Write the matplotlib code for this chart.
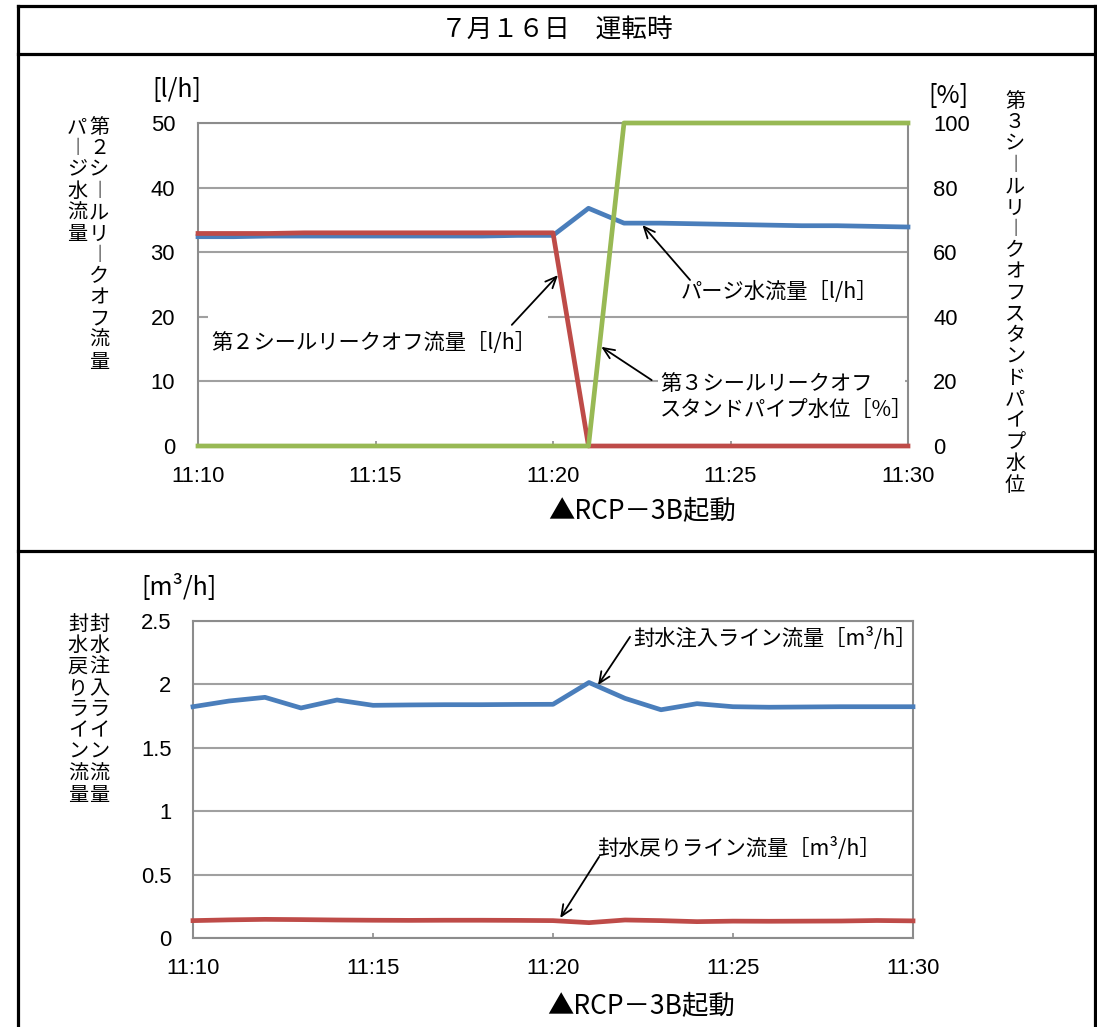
import matplotlib
matplotlib.use("Agg")
import matplotlib.pyplot as plt
import matplotlib.dates as mdates
from matplotlib.ticker import MultipleLocator, StrMethodFormatter
from matplotlib.patches import Rectangle
from matplotlib.lines import Line2D
import pandas as pd

plt.rcParams['font.family'] = ['Noto Sans CJK JP', 'DejaVu Sans']

# ---------------- data ----------------
title = "７月１６日　運転時"
times = ["11:10", "11:11", "11:12", "11:13", "11:14", "11:15", "11:16", "11:17",
         "11:18", "11:19", "11:20", "11:21", "11:22", "11:23", "11:24", "11:25",
         "11:26", "11:27", "11:28", "11:29", "11:30"]
purge_flow = [32.4, 32.4, 32.5, 32.5, 32.5, 32.5, 32.5, 32.5, 32.5, 32.6, 32.6,
              36.8, 34.5, 34.5, 34.4, 34.3, 34.2, 34.1, 34.1, 34.0, 33.9]
leakoff2_flow = [32.9, 32.9, 32.9, 33.0, 33.0, 33.0, 33.0, 33.0, 33.0, 33.0, 33.0,
                 0, 0, 0, 0, 0, 0, 0, 0, 0, 0]
standpipe3_level = [0, 0, 0, 0, 0, 0, 0, 0, 0, 0, 0, 0,
                    100, 100, 100, 100, 100, 100, 100, 100, 100]
inject_flow = [1.824, 1.869, 1.898, 1.814, 1.877, 1.835, 1.838, 1.840, 1.840, 1.842, 1.843,
               2.015, 1.890, 1.800, 1.848, 1.824, 1.820, 1.822, 1.824, 1.824, 1.824]
return_flow = [0.137, 0.143, 0.147, 0.145, 0.142, 0.140, 0.139, 0.140, 0.140, 0.139, 0.137,
               0.121, 0.142, 0.137, 0.129, 0.133, 0.132, 0.133, 0.134, 0.138, 0.135]

label_purge = "パージ水流量［l/h］"
label_leak2 = "第２シールリークオフ流量［l/h］"
label_stand3 = "第３シールリークオフ\nスタンドパイプ水位［%］"
label_inject = "封水注入ライン流量［m³/h］"
label_return = "封水戻りライン流量［m³/h］"
ylab_top_right_col = "第２シールリークオフ流量"
ylab_top_left_col = "パージ水流量"
ylab_right = "第３シールリークオフスタンドパイプ水位"
ylab_bot_right_col = "封水注入ライン流量"
ylab_bot_left_col = "封水戻りライン流量"
event_label = "▲RCP－3B起動"

BLUE = "#4A7EBB"
RED = "#BE4B48"
GREEN = "#98B954"
GRID = "#A0A0A0"
SPINE = "#8C8C8C"
NUMFONT = "Liberation Sans"
ANN_FS = 15.3

W, H = 1097, 1027
fig = plt.figure(figsize=(W / 100, H / 100), dpi=100)


def fx(px):
    return px / W


def fy(py):
    return 1 - py / H


def vert(s):
    return "\n".join("︱" if c == "ー" else c for c in s)


# ---------------- frame ----------------
fk = dict(color="black", lw=2.3, transform=fig.transFigure, solid_capstyle="projecting")
fig.add_artist(Line2D([fx(18), fx(1095)], [fy(6), fy(6)], **fk))
fig.add_artist(Line2D([fx(18), fx(1095)], [fy(54), fy(54)], **fk))
fig.add_artist(Line2D([fx(18), fx(1095)], [fy(550.5), fy(550.5)], **fk))
fig.add_artist(Line2D([fx(18), fx(18)], [fy(6), 0], **fk))
fig.add_artist(Line2D([fx(1095), fx(1095)], [fy(6), 0], **fk))

fig.text(0.508, fy(30), title, ha="center", va="center", fontsize=18.5)

t = pd.to_datetime(times, format="%H:%M")
line_kw = dict(lw=3.4, solid_joinstyle="round", clip_on=False, zorder=3)
arrow_kw = dict(arrowstyle="->,head_length=0.8,head_width=0.35", color="black",
                lw=1.3, shrinkA=0, shrinkB=0)


def style_axes(ax):
    for sp in ax.spines.values():
        sp.set_color(SPINE)
        sp.set_linewidth(1.5)
        sp.set_zorder(2.5)
    ax.set_axisbelow(True)
    ax.yaxis.grid(True, color=GRID, lw=1.5)
    ax.xaxis.grid(False)
    ax.xaxis.set_major_locator(mdates.MinuteLocator(byminute=range(0, 60, 5)))
    ax.xaxis.set_major_formatter(mdates.DateFormatter("%H:%M"))
    ax.tick_params(axis="x", direction="in", length=3.6, width=1.2, color=SPINE,
                   pad=14.5, labelsize=15.8, labelfontfamily=NUMFONT)
    ax.set_xlim(t[0], t[-1])


# ---------------- top chart ----------------
ax1 = fig.add_axes([fx(198), fy(446), (908 - 198) / W, (446 - 123) / H])
style_axes(ax1)
ax1.plot(t, purge_flow, color=BLUE, **line_kw)
ax1.plot(t, leakoff2_flow, color=RED, **line_kw)
ax1.set_ylim(0, 50)
ax1.yaxis.set_major_locator(MultipleLocator(10))
ax1.tick_params(axis="y", length=0, pad=16.5, labelsize=15.8, labelfontfamily=NUMFONT)

axr = ax1.twinx()
axr.plot(t, standpipe3_level, color=GREEN, **line_kw)
axr.set_ylim(0, 100)
axr.yaxis.set_major_locator(MultipleLocator(20))
axr.tick_params(axis="y", length=0, pad=18, labelsize=15.8, labelfontfamily=NUMFONT)
for sp in axr.spines.values():
    sp.set_visible(False)
axr.set_xlim(t[0], t[-1])

# white text boxes hiding gridlines
ax1.add_patch(Rectangle((0.014, 0.235), 0.479, 0.18, transform=ax1.transAxes,
                        fc="white", ec="none", zorder=1))
ax1.add_patch(Rectangle((0.648, 0.056), 0.348, 0.195, transform=ax1.transAxes,
                        fc="white", ec="none", zorder=1))

ax1.text(0.248, 0.319, label_leak2, transform=ax1.transAxes, ha="center", va="center",
         fontsize=ANN_FS, zorder=5)
ax1.annotate("", xy=(0.507, 0.529), xytext=(0.442, 0.375), xycoords="axes fraction",
             arrowprops=arrow_kw, zorder=5)
ax1.text(0.819, 0.478, label_purge, transform=ax1.transAxes, ha="center", va="center",
         fontsize=ANN_FS, zorder=5)
ax1.annotate("", xy=(0.626, 0.684), xytext=(0.693, 0.514), xycoords="axes fraction",
             arrowprops=arrow_kw, zorder=5)
ax1.text(0.651, 0.152, label_stand3, transform=ax1.transAxes, ha="left", va="center",
         fontsize=ANN_FS, linespacing=1.25, zorder=5)
ax1.annotate("", xy=(0.568, 0.307), xytext=(0.639, 0.204), xycoords="axes fraction",
             arrowprops=arrow_kw, zorder=5)

fig.text(fx(177), fy(90), "[l/h]", ha="center", va="center", fontsize=18)
fig.text(fx(948.5), fy(96), "[%]", ha="center", va="center", fontsize=18)
fig.text(fx(99), fy(117), vert(ylab_top_right_col), ha="center", va="top",
         fontsize=14.5, linespacing=1.02)
fig.text(fx(77), fy(117), vert(ylab_top_left_col), ha="center", va="top",
         fontsize=14.5, linespacing=1.02)
fig.text(fx(1015), fy(91), vert(ylab_right), ha="center", va="top",
         fontsize=14.5, linespacing=1.02)
fig.text(fx(548), fy(512), event_label, ha="left", va="center", fontsize=19)

# ---------------- bottom chart ----------------
ax2 = fig.add_axes([fx(193), fy(938), (913 - 193) / W, (938 - 621) / H])
style_axes(ax2)
ax2.plot(t, inject_flow, color=BLUE, **line_kw)
ax2.plot(t, return_flow, color=RED, **line_kw)
ax2.set_ylim(0, 2.5)
ax2.yaxis.set_major_locator(MultipleLocator(0.5))
ax2.yaxis.set_major_formatter(StrMethodFormatter("{x:g}"))
ax2.tick_params(axis="y", length=0, pad=15.5, labelsize=15.8, labelfontfamily=NUMFONT)

ax2.text(0.808, 0.946, label_inject, transform=ax2.transAxes, ha="center", va="center",
         fontsize=ANN_FS, zorder=5)
ax2.annotate("", xy=(0.5625, 0.798), xytext=(0.607, 0.950), xycoords="axes fraction",
             arrowprops=arrow_kw, zorder=5)
ax2.text(0.758, 0.281, label_return, transform=ax2.transAxes, ha="center", va="center",
         fontsize=ANN_FS, zorder=5)
ax2.annotate("", xy=(0.510, 0.063), xytext=(0.564, 0.256), xycoords="axes fraction",
             arrowprops=arrow_kw, zorder=5)

fig.text(fx(178.5), fy(587), "[m³/h]", ha="center", va="center", fontsize=18)
fig.text(fx(99.5), fy(614), vert(ylab_bot_right_col), ha="center", va="top",
         fontsize=14.5, linespacing=1.02)
fig.text(fx(78), fy(614), vert(ylab_bot_left_col), ha="center", va="top",
         fontsize=14.5, linespacing=1.02)
fig.text(fx(547), fy(1007), event_label, ha="left", va="center", fontsize=19)

fig.savefig("out.png", dpi=100)
